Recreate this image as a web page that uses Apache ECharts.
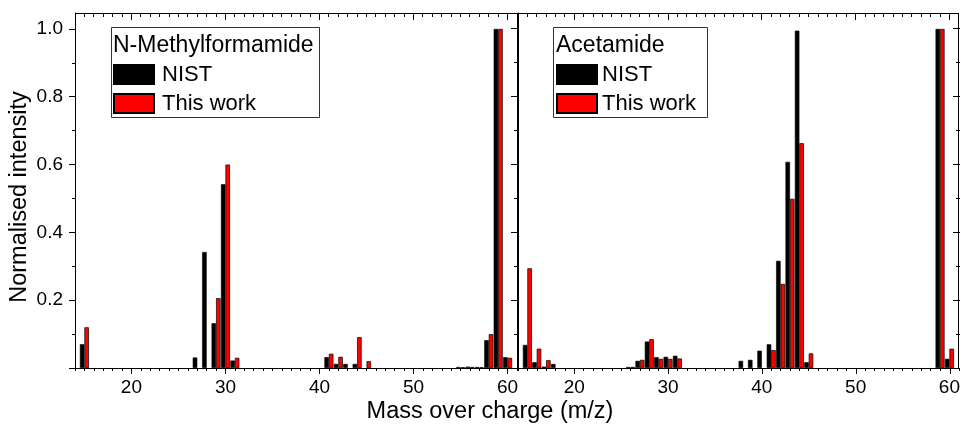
<!DOCTYPE html>
<html>
<head>
<meta charset="utf-8">
<script src="https://cdn.jsdelivr.net/npm/echarts@6/dist/echarts.min.js"></script>
<style>html,body{margin:0;padding:0;background:#fff;overflow:hidden}#c{width:963px;height:427px;background:#fff}</style>
</head>
<body>
<div id="c"></div>
<script>
// ---- data ----
const mzLeft     = [15, 27, 28, 29, 30, 31, 41, 42, 43, 44, 45, 55, 56, 57, 58, 59, 60];
const nistLeft   = [0.070, 0.031, 0.342, 0.132, 0.542, 0.022, 0.032, 0.012, 0.012, 0.012, 0, 0.003, 0.004, 0.003, 0.082, 1.0, 0.032];
const workLeft   = [0.120, 0, 0, 0.206, 0.600, 0.030, 0.042, 0.033, 0, 0.091, 0.020, 0.002, 0.003, 0.002, 0.100, 1.0, 0.030];

const mzRight    = [15, 16, 17, 18, 26, 27, 28, 29, 30, 31, 38, 39, 40, 41, 42, 43, 44, 45, 59, 60];
const nistRight  = [0.068, 0.017, 0.004, 0.012, 0.003, 0.021, 0.078, 0.032, 0.033, 0.036, 0.021, 0.024, 0.051, 0.070, 0.316, 0.608, 0.995, 0.017, 1.0, 0.027];
const workRight  = [0.294, 0.057, 0.023, 0, 0.003, 0.024, 0.085, 0.027, 0.027, 0.028, 0, 0, 0, 0.053, 0.248, 0.499, 0.663, 0.043, 1.0, 0.057];

const xMajorTicks = [20, 30, 40, 50, 60];
const xMinorTicks = [14,15,16,17,18,19,21,22,23,24,25,26,27,28,29,31,32,33,34,35,36,37,38,39,41,42,43,44,45,46,47,48,49,51,52,53,54,55,56,57,58,59,61];
const yMajorTicks = [0, 0.2, 0.4, 0.6, 0.8, 1.0];
const yLabelTicks = [0.2, 0.4, 0.6, 0.8, 1.0];
const yMinorTicks = [0.1, 0.3, 0.5, 0.7, 0.9];

const leftTitle = 'N-Methylformamide';
const rightTitle = 'Acetamide';
const xName = 'Mass over charge (m/z)';
const yName = 'Normalised intensity';

// ---- chart ----
const FONT = "'Liberation Sans', Arial, sans-serif";
const XMIN = 14, XMAX = 61, YMIN = 0, YMAX = 1.047;
const PANELS = [{left: 75, top: 13, width: 442, height: 355}, {left: 518, top: 13, width: 442, height: 355}];
const MAJOR_LEN = 6, MINOR_LEN = 3;

function pairs(mz, vals) {
  const out = [];
  mz.forEach((m, i) => { if (vals[i] > 0) out.push([m, vals[i]]); });
  return out;
}

function axisLine(show) {
  return {show: show, onZero: false, lineStyle: {color: '#000', width: 1}};
}
function tick(len, vals) {
  if (!vals) return {show: false};
  return {show: true, inside: false, length: len, customValues: vals, lineStyle: {color: '#000', width: 1}};
}

const grids = [], xAxes = [], yAxes = [];
function addLayer(p, xLine, xLen, xTicks, xLabels, yLine, yLen, yTicks, yLabels) {
  const g = grids.length;
  grids.push(Object.assign({}, PANELS[p]));
  xAxes.push({
    type: 'value', gridIndex: g, min: XMIN, max: XMAX, position: 'bottom', splitLine: {show: false},
    axisLine: axisLine(xLine), axisTick: tick(xLen, xTicks),
    axisLabel: xLabels ? {show: true, customValues: xLabels, fontSize: 19, color: '#000', fontFamily: FONT, margin: 10,
      formatter: v => String(v)} : {show: false}
  });
  yAxes.push({
    type: 'value', gridIndex: g, min: YMIN, max: YMAX, position: 'left', splitLine: {show: false},
    axisLine: axisLine(yLine), axisTick: tick(yLen, yTicks),
    axisLabel: yLabels ? {show: true, customValues: yLabels, fontSize: 19, color: '#000', fontFamily: FONT, margin: 12,
      formatter: v => Number(v).toFixed(1)} : {show: false}
  });
  return g;
}

const gL = addLayer(0, true, MINOR_LEN, xMinorTicks, xMajorTicks, true, MAJOR_LEN, yMajorTicks, yLabelTicks);
addLayer(0, false, MAJOR_LEN, xMajorTicks, null, false, MINOR_LEN, yMinorTicks, null);
const gR = addLayer(1, true, MINOR_LEN, xMinorTicks, xMajorTicks, true, 0, null, null);
addLayer(1, false, MAJOR_LEN, xMajorTicks, null, false, 0, null, null);

function barSeries(name, data, gi, color, border) {
  return {
    type: 'bar', name: name, data: data, xAxisIndex: gi, yAxisIndex: gi,
    barWidth: 4.5, barGap: '0%',
    itemStyle: {color: color, borderColor: '#000', borderWidth: border},
    emphasis: {disabled: true}
  };
}

function legendAt(left, pad) {
  return {
    left: left, top: 63.5, orient: 'vertical', padding: 0,
    itemWidth: 40, itemHeight: 19, itemGap: 7, icon: 'rect', selectedMode: false,
    data: ['NIST', 'This work'],
    textStyle: {fontSize: 22, color: '#000', fontFamily: FONT, padding: [0, 0, 0, pad]}
  };
}

const baseGraphic = [
  {type: 'rect', shape: {x: 111.5, y: 27.5, width: 208, height: 90}, style: {fill: 'none', stroke: '#333', lineWidth: 1}},
  {type: 'text', x: 113, y: 46, style: {text: leftTitle, fontSize: 23, fill: '#000', fontFamily: FONT, verticalAlign: 'middle'}},
  {type: 'rect', shape: {x: 553.5, y: 27.5, width: 154, height: 90}, style: {fill: 'none', stroke: '#333', lineWidth: 1}},
  {type: 'text', x: 556, y: 46, style: {text: rightTitle, fontSize: 23, fill: '#000', fontFamily: FONT, verticalAlign: 'middle'}},
  {type: 'text', x: 490, y: 412, style: {text: xName, fontSize: 23.5, fill: '#000', fontFamily: FONT, align: 'center', verticalAlign: 'middle'}},
  {type: 'text', x: 20, y: 197, rotation: Math.PI / 2, style: {text: yName, fontSize: 23.5, fill: '#000', fontFamily: FONT, align: 'center', verticalAlign: 'middle'}}
];

const option = {
  animation: false,
  grid: grids,
  xAxis: xAxes,
  yAxis: yAxes,
  legend: [legendAt(113, 3), legendAt(556, 0)],
  series: [
    barSeries('NIST', pairs(mzLeft, nistLeft), gL, '#000', 0.6),
    barSeries('This work', pairs(mzLeft, workLeft), gL, '#ff0000', 0.7),
    barSeries('NIST', pairs(mzRight, nistRight), gR, '#000', 0.6),
    barSeries('This work', pairs(mzRight, workRight), gR, '#ff0000', 0.7)
  ],
  graphic: baseGraphic
};

const chart = echarts.init(document.getElementById('c'), null, {renderer: 'canvas'});
chart.setOption(option);

// top / right frame and inward ticks, positioned through each panel's own axes
function crisp(v) { return Math.floor(v) + 0.5; }
const frame = [];
[gL, gR].forEach(function (gi) {
  const f = {gridIndex: gi};
  const px = v => chart.convertToPixel({xAxisIndex: gi}, v);
  const py = v => chart.convertToPixel({yAxisIndex: gi}, v);
  const x0 = px(XMIN), x1 = px(XMAX), yTop = py(YMAX), yBot = py(YMIN);
  const st = {stroke: '#000', lineWidth: 1, fill: null};
  frame.push({type: 'polyline', z: 100, silent: true,
    shape: {points: [[Math.round(x0), crisp(yTop)], [crisp(x1), crisp(yTop)], [crisp(x1), Math.round(yBot)]]}, style: st});
  xMinorTicks.forEach(v => { const x = crisp(px(v)); frame.push({type: 'line', z: 100, silent: true,
    shape: {x1: x, y1: Math.round(yTop), x2: x, y2: Math.round(yTop) + MINOR_LEN + 1}, style: st}); });
  xMajorTicks.forEach(v => { const x = crisp(px(v)); frame.push({type: 'line', z: 100, silent: true,
    shape: {x1: x, y1: Math.round(yTop), x2: x, y2: Math.round(yTop) + MAJOR_LEN + 1}, style: st}); });
  yMinorTicks.forEach(v => { const y = crisp(py(v)); frame.push({type: 'line', z: 100, silent: true,
    shape: {x1: Math.round(x1) + 1, y1: y, x2: Math.round(x1) - MINOR_LEN, y2: y}, style: st}); });
  yMajorTicks.forEach(v => { const y = crisp(py(v)); frame.push({type: 'line', z: 100, silent: true,
    shape: {x1: Math.round(x1) + 1, y1: y, x2: Math.round(x1) - MAJOR_LEN, y2: y}, style: st}); });
});
chart.setOption({graphic: baseGraphic.concat(frame)}, {replaceMerge: ['graphic']});
</script>
</body>
</html>
